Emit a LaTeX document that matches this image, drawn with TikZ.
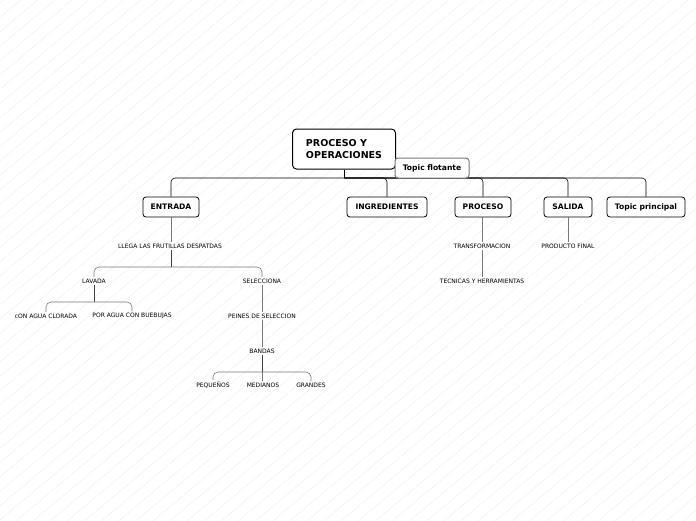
\documentclass[tikz,border=0pt]{standalone}
\usepackage{fontspec}
\setmainfont{DejaVu Sans}
\usetikzlibrary{patterns.meta}
\definecolor{mygray}{RGB}{120,120,120}
\definecolor{myhatch}{RGB}{235,235,235}
\begin{document}
\begin{tikzpicture}[x=1pt,y=-1pt,
  topic/.style={rectangle,rounded corners=3pt,draw,line width=0.8pt,fill=white,
               font=\fontsize{7.6}{8}\selectfont\bfseries,inner sep=0pt,minimum height=20pt},
  sub/.style={font=\fontsize{6}{7}\selectfont,inner sep=1.5pt},
  conn/.style={line width=0.6pt,rounded corners=4pt},
  subconn/.style={line width=0.6pt,mygray,rounded corners=5pt}]
\fill[white] (0,0) rectangle (696,520);
\fill[pattern={Lines[angle=40,distance=11pt,line width=0.3pt]},pattern color=myhatch] (0,0) rectangle (696,520);
\useasboundingbox (0,0) rectangle (696,520);
% main topics
\node[topic,line width=1pt,minimum width=103pt,minimum height=40pt,rounded corners=4pt,
      align=left,font=\fontsize{9.5}{11.5}\selectfont\bfseries] (root) at (344,149) {PROCESO Y\\OPERACIONES};
\coordinate (bus) at (344,178);
\node[topic,minimum width=56pt]  (entrada) at (171,207) {ENTRADA};
\node[topic,minimum width=80pt]  (ingred)  at (387,207) {INGREDIENTES};
\node[topic,minimum width=56pt]  (proceso) at (483,207) {PROCESO};
\node[topic,minimum width=48pt]  (salida)  at (568,207) {SALIDA};
\node[topic,minimum width=78pt]  (tprin)   at (646,207) {Topic principal};
\draw[conn] (root) -- (bus);
\draw[conn] (bus) -| (entrada.north);
\draw[conn] (bus) -| (ingred.north);
\draw[conn] (bus) -| (proceso.north);
\draw[conn] (bus) -| (salida.north);
\draw[conn] (bus) -| (tprin.north);
\node[topic,draw=mygray,line width=1pt,minimum width=74pt] (flot) at (432,168) {Topic flotante};
% subtopics
\node[sub] (llega) at (170,246) {LLEGA LAS FRUTILLAS DESPATDAS};
\node[sub] (lavada) at (94,281) {LAVADA};
\node[sub] (selec) at (262,281) {SELECCIONA};
\node[sub] (cagua) at (46,316) {cON AGUA CLORADA};
\node[sub] (pagua) at (132,316) {POR AGUA CON BUEBUJAS};
\node[sub] (peines) at (262,316) {PEINES DE SELECCION};
\node[sub] (bandas) at (262,351) {BANDAS};
\node[sub] (peq) at (213,385) {PEQUEÑOS};
\node[sub] (med) at (263,385) {MEDIANOS};
\node[sub] (gran) at (311,385) {GRANDES};
\node[sub] (transf) at (482,246) {TRANSFORMACION};
\node[sub] (tecn) at (482,281) {TECNICAS Y HERRAMIENTAS};
\node[sub] (prodf) at (568,246) {PRODUCTO FINAL};
\coordinate (llbus) at (171,267);
\coordinate (lavbr) at (94,302);
\coordinate (banbr) at (262,372);
\draw[subconn] (entrada.south) -- (entrada.south |- llega.north);
\draw[line width=0.8pt,black!75] (llega.south -| llbus) -- (llbus);
\draw[subconn] (llbus) -| (lavada.north);
\draw[subconn] (llbus) -| (selec.north);
\draw[line width=0.8pt,black!75] (lavada.south) -- (lavbr);
\draw[subconn] (lavbr) -| (cagua.north);
\draw[subconn] (lavbr) -| (pagua.north);
\draw[subconn] (selec.south) -- (peines.north);
\draw[subconn] (peines.south) -- (bandas.north);
\draw[line width=0.8pt,black!75] (bandas.south -| banbr) -- (banbr);
\draw[subconn] (banbr) -| (peq.north);
\draw[subconn] (banbr) -| (gran.north);
\draw[subconn] (banbr) -- (banbr |- med.north);
\draw[subconn] (proceso.south -| transf.north) -- (transf.north);
\draw[subconn] (transf.south) -- (tecn.north);
\draw[subconn] (salida.south) -- (prodf.north);
\end{tikzpicture}
\end{document}
